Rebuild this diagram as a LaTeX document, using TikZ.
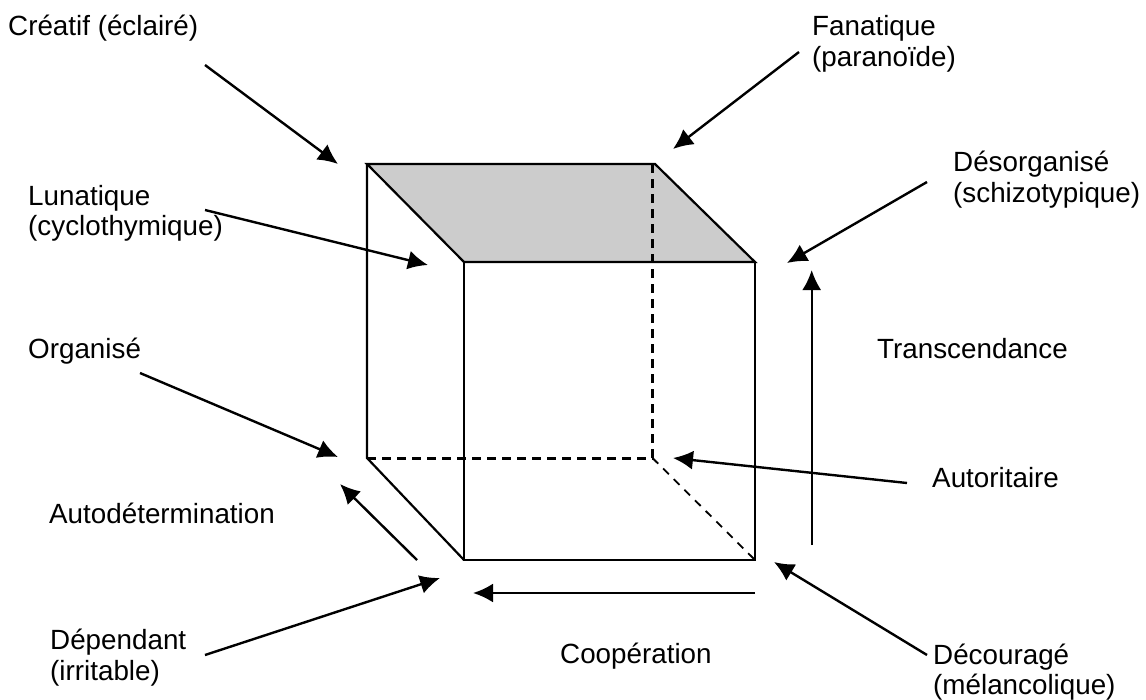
\documentclass[tikz,border=0pt]{standalone}
\usepackage{fontspec}
\setmainfont{Liberation Sans}
\usetikzlibrary{arrows.meta}
\tikzset{
  lbl/.style={inner sep=0pt, anchor=base west, font=\fontsize{27.8}{31}\selectfont},
  arr/.style={line width=2.4pt, -{Latex[length=20pt,width=19pt]}},
  edge/.style={line width=2.2pt, line join=miter},
  hidthick/.style={line width=3pt, dash pattern=on 9pt off 6pt},
  hidthin/.style={line width=1.8pt, dash pattern=on 8pt off 7pt}
}
\begin{document}
\begin{tikzpicture}[x=1pt,y=-1pt]
\useasboundingbox (0,0) rectangle (1146,699);
% cube corners
\coordinate (A) at (367,164);
\coordinate (B) at (655,164);
\coordinate (C) at (755,262);
\coordinate (D) at (464,262);
\coordinate (E) at (367,458);
\coordinate (F) at (652.5,458);
\coordinate (Fd) at (652.5,164);
\coordinate (G) at (464,560);
\coordinate (H) at (755,560);
% cube
\filldraw[edge, fill=gray!40] (A) -- (B) -- (C) -- (D) -- cycle;
\draw[edge] (D) rectangle (H);
\draw[edge] (A) -- (E) -- (G);
\draw[hidthick] (Fd) -- (F);
\draw[hidthick] (E) -- (F);
\draw[hidthin] (F) -- (H);
% labels
\node[lbl] (cre) at (8,35) {Créatif (éclairé)};
\node[lbl] (fan) at (812,35) {Fanatique};
\node[lbl] (fanb) at (812,66) {(paranoïde)};
\node[lbl] (lun) at (28,205) {Lunatique};
\node[lbl] (lunb) at (28,235) {(cyclothymique)};
\node[lbl] (des) at (953,171) {Désorganisé};
\node[lbl] (desb) at (953,202) {(schizotypique)};
\node[lbl] (org) at (28,358) {Organisé};
\node[lbl] (tra) at (877,358) {Transcendance};
\node[lbl] (aut) at (932,487) {Autoritaire};
\node[lbl] (adt) at (49,523) {Autodétermination};
\node[lbl] (dep) at (50,649) {Dépendant};
\node[lbl] (depb) at (50,680) {(irritable)};
\node[lbl] (coo) at (560,663) {Coopération};
\node[lbl] (dec) at (933,664) {Découragé};
\node[lbl] (decb) at (933,694) {(mélancolique)};
% arrow ends
\coordinate (cre1) at (205,65);   \coordinate (cre2) at (338,164);
\coordinate (lun1) at (205,210);  \coordinate (lun2) at (428,265);
\coordinate (fan1) at (799,52);   \coordinate (fan2) at (673,149);
\coordinate (des1) at (927,182);  \coordinate (des2) at (787,263);
\coordinate (tra1) at (811.7,545);\coordinate (tra2) at (811.7,270);
\coordinate (aut1) at (907,483);  \coordinate (aut2) at (673,458);
\coordinate (dec1) at (927,655);  \coordinate (dec2) at (774,562);
\coordinate (coo1) at (755,593);  \coordinate (coo2) at (473,593);
\coordinate (dep1) at (205,655);  \coordinate (dep2) at (440,578);
\coordinate (adt1) at (417,560);  \coordinate (adt2) at (340,484);
\coordinate (org1) at (140,373);  \coordinate (org2) at (338,457);
% arrows
\draw[arr] (cre1) -- (cre2);
\draw[arr] (lun1) -- (lun2);
\draw[arr] (fan1) -- (fan2);
\draw[arr] (des1) -- (des2);
\draw[arr] (tra1) -- (tra2);
\draw[arr] (aut1) -- (aut2);
\draw[arr] (dec1) -- (dec2);
\draw[arr] (coo1) -- (coo2);
\draw[arr] (dep1) -- (dep2);
\draw[arr] (adt1) -- (adt2);
\draw[arr] (org1) -- (org2);
\end{tikzpicture}
\end{document}
